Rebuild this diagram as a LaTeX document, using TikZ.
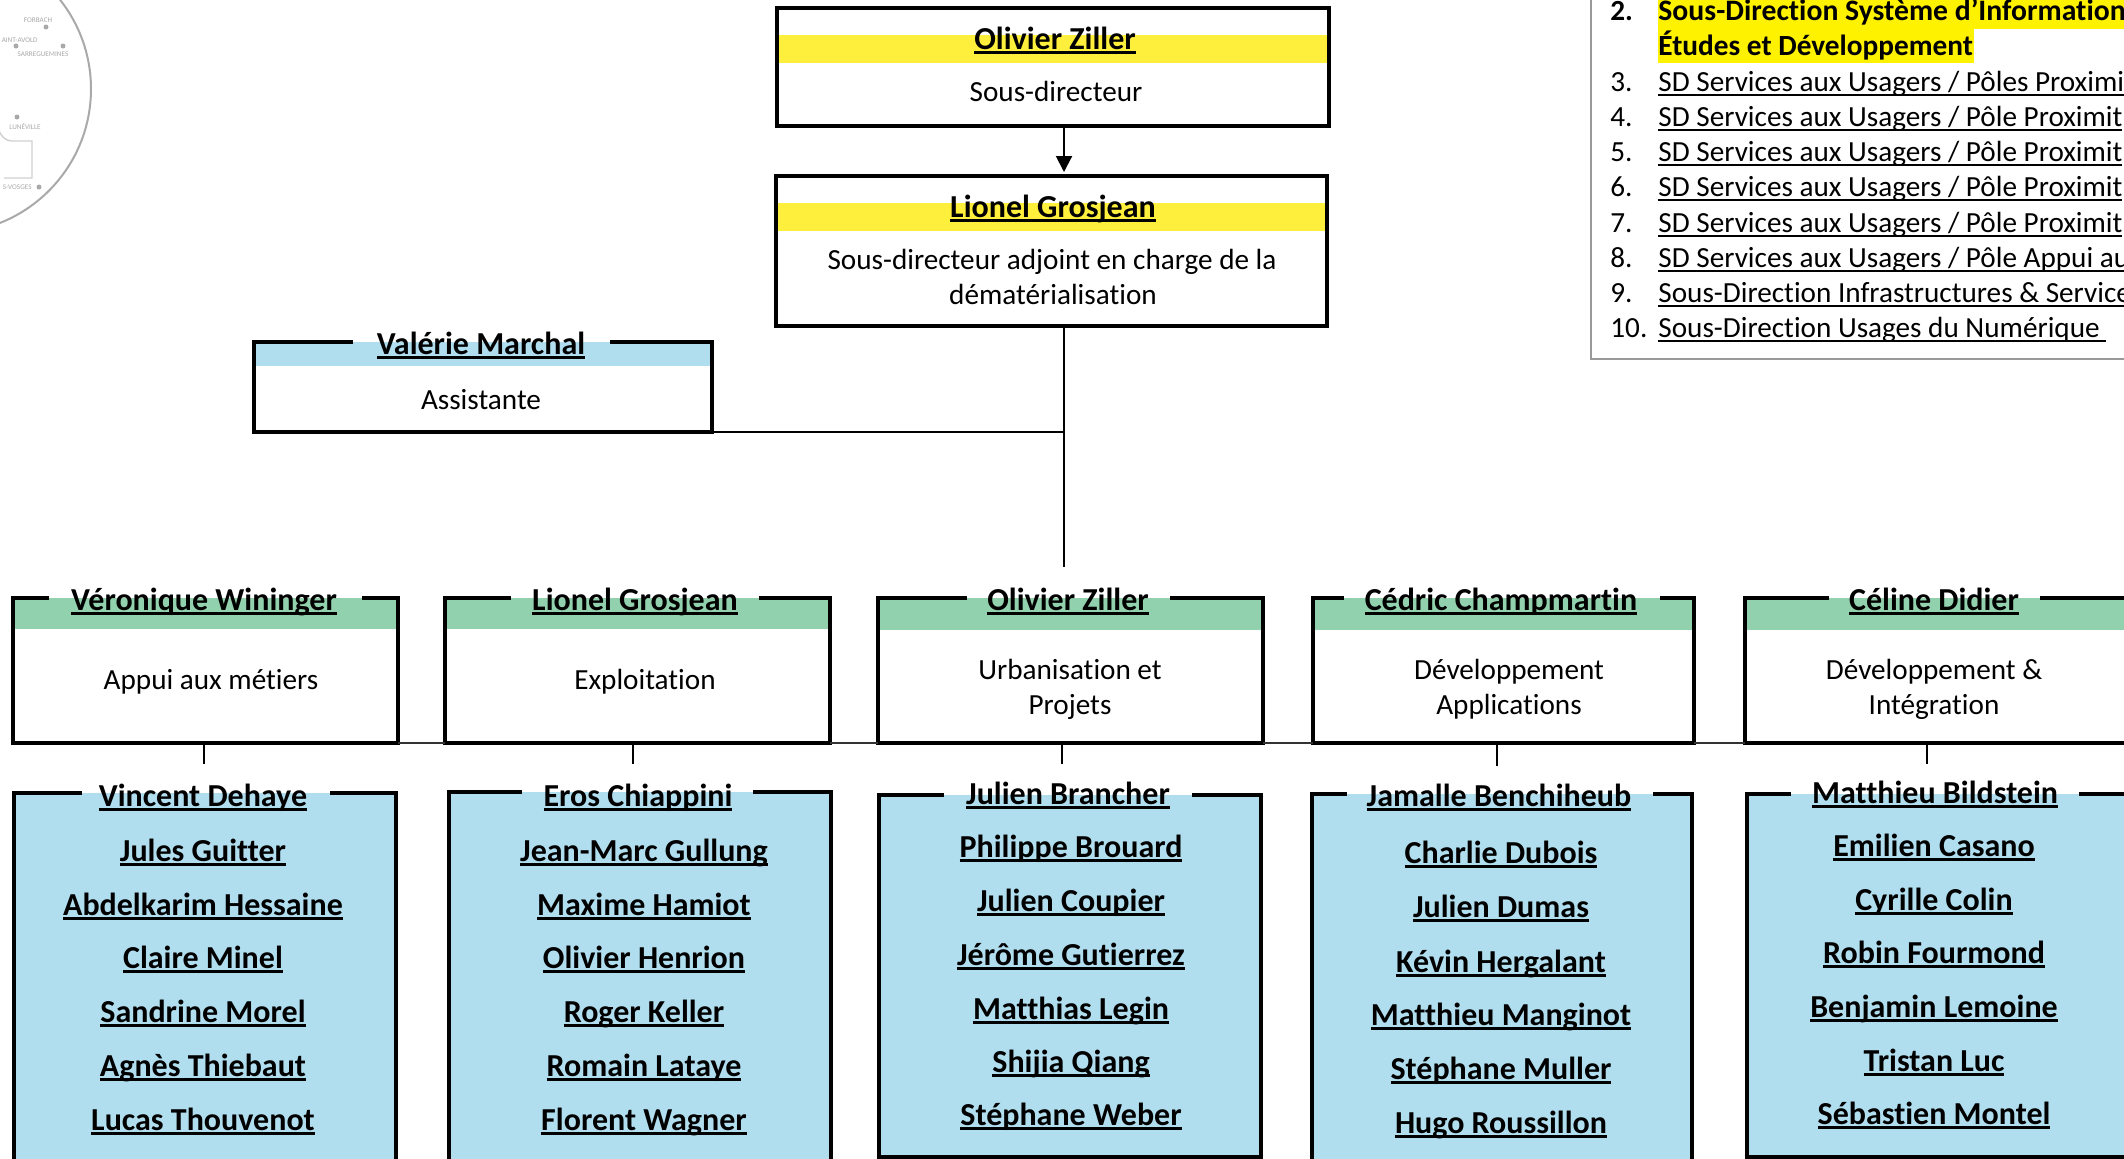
\documentclass[tikz,border=0pt]{standalone}
\usepackage{fontspec}
\setmainfont{Carlito}[Ligatures=NoCommon]
\usetikzlibrary{arrows.meta,calc}
\definecolor{yel}{HTML}{FFEF3D}
\definecolor{grn}{HTML}{92D1AD}
\definecolor{blu}{HTML}{B0DEEF}
\definecolor{mapgray}{HTML}{A9A9A9}
\definecolor{maptxt}{HTML}{A8A8A8}
\definecolor{mapline}{HTML}{CFCFCF}
\newcommand\ulb[1]{\setbox0\hbox{#1}\rlap{\rule[-2.3pt]{\wd0}{1.1pt}}\box0}
\newcommand\uln[1]{\setbox0\hbox{#1}\rlap{\rule[-2.3pt]{\wd0}{0.8pt}}\box0}
% id x1 y1 x2 y2 gapL gapR fill bandBottom
\newcommand\bx[9]{%
  \node[boxbg,minimum width={(#4-#2)*0.5pt},minimum height={(#5-#3)*0.5pt}] (#1) at (#2,#3) {};
  \fill[#8] (#1.north west) rectangle (#4,#9);
  \draw[border] (#6,#3) -- (#1.north west) -- (#1.south west) -- (#1.south east) -- (#1.north east) -- (#7,#3);
}
\newcommand\nm[4]{\node[namest] (#1) at (#2,{#3+11}) {\ulb{#4}};}
\newcommand\tx[4]{\node[textst] (#1) at (#2,{#3+9}) {#4};}
\newcommand\lsn[4]{\node[listnum] (#1) at (1610,#2) {#3};\node[listtxt] (#1t) at (1658,#2) {\uln{#4}};}
\tikzset{
  boxbg/.style={anchor=north west,inner sep=0pt,outer sep=0pt,fill=white},
  border/.style={line width=1.6pt,black,line join=miter},
  namest/.style={anchor=base,inner sep=0pt,font=\bfseries\fontsize{16}{19}\selectfont},
  textst/.style={anchor=base,inner sep=0pt,font=\fontsize{14.6}{17.5}\selectfont},
  listnum/.style={anchor=base west,inner sep=0pt,font=\fontsize{14.6}{17.5}\selectfont},
  listtxt/.style={anchor=base west,inner sep=0pt,font=\fontsize{14.6}{17.5}\selectfont},
  conn/.style={line width=1pt,black},
  hline/.style={line width=0.9pt,black!80},
  maplab/.style={inner sep=0pt,text=maptxt,font=\fontsize{3.6}{4}\selectfont},
  mapdot/.style={circle,fill=mapgray,inner sep=0pt,minimum size=2.5pt},
}
\begin{document}
\begin{tikzpicture}[x=0.5pt,y=-0.5pt]
\useasboundingbox (0,0) rectangle (2124,1158);
\clip (0,0) rectangle (2124,1158);
% map fragment
\draw[mapgray,line width=1pt] (-53,89) circle (72pt);
\draw[mapline,line width=0.7pt] (-2,128) .. controls (1,137) and (6,141) .. (12,141) -- (32,141) -- (32,178) -- (4,178);
\node[maplab] (fb) at (38,20) {FORBACH};
\node[maplab,anchor=east] (sa) at (38,40) {AINT-AVOLD};
\node[maplab] (sg) at (43,54) {SARREGUEMINES};
\node[maplab] (lu) at (25,127) {LUNÉVILLE};
\node[maplab,anchor=east] (sd) at (32,187) {S-VOSGES};
\node[mapdot] (d1) at (46,27) {};
\node[mapdot] (d2) at (16,46) {};
\node[mapdot] (d3) at (63,46) {};
\node[mapdot] (d4) at (17,117) {};
\node[mapdot] (d5) at (39,187) {};
% list panel
\coordinate (pTL) at (1591,-5);
\coordinate (pBL) at (1591,359);
\coordinate (pBR) at (2130,359);
\draw[gray!80,line width=0.8pt] (pTL) -- (pBL) -- (pBR);
\fill[yellow] (1658,-2) rectangle (2130,29);
\fill[yellow] (1658,29) rectangle (1974,63);
\node[listnum,font=\bfseries\fontsize{14.6}{17.5}\selectfont] (l2) at (1610,20) {2.};
\node[listtxt,font=\bfseries\fontsize{14.85}{17.5}\selectfont] (l2a) at (1658,20) {Sous-Direction Système d’Information};
\node[listtxt,font=\bfseries\fontsize{14.65}{17.5}\selectfont] (l2b) at (1658,55) {Études et Développement};
\lsn{l3}{91}{3.}{SD Services aux Usagers / Pôles Proximi}
\lsn{l4}{126}{4.}{SD Services aux Usagers / Pôle Proximit}
\lsn{l5}{161}{5.}{SD Services aux Usagers / Pôle Proximit}
\lsn{l6}{196}{6.}{SD Services aux Usagers / Pôle Proximit}
\lsn{l7}{232}{7.}{SD Services aux Usagers / Pôle Proximit}
\lsn{l8}{267}{8.}{SD Services aux Usagers / Pôle Appui au}
\lsn{l9}{302}{9.}{Sous-Direction Infrastructures \& Service}
\lsn{l10}{337}{10.}{Sous-Direction Usages du Numérique\ }
% connectors
\coordinate (trunk) at (1064,567);
\coordinate (s1) at (204,764);
\coordinate (s2) at (633,764);
\coordinate (s3) at (1062,764);
\coordinate (s4) at (1497,766);
\coordinate (s5) at (1927,764);
% boxes
\node[boxbg,minimum width=276pt,minimum height=59pt] (top) at (777,8) {};
\fill[yel] (779,35) rectangle (1327,63);
\draw[border] (top.north west) rectangle (top.south east);
\node[boxbg,minimum width=275.5pt,minimum height=75pt] (dep) at (776,176) {};
\fill[yel] (778,203) rectangle (1329,231);
\draw[border] (dep.north west) rectangle (dep.south east);
\bx{val}{254}{342}{712}{432}{353}{610}{blu}{366}
\draw[conn,-{Triangle[length=8pt,width=8pt]},shorten >=2pt] (top.south -| trunk) -- (dep.north -| trunk);
\draw[conn] (dep.south -| trunk) -- (trunk);
\draw[conn] (val.south east) -- (val.south east -| trunk);
\bx{c1}{13}{598}{398}{743}{49}{362}{grn}{629}
\bx{c2}{445}{598}{830}{743}{511}{759}{grn}{629}
\bx{c3}{878}{598}{1263}{743}{967}{1170}{grn}{630}
\bx{c4}{1313}{598}{1694}{743}{1344}{1660}{grn}{630}
\bx{c5}{1745}{598}{2140}{743}{1829}{2040}{grn}{630}
\draw[hline] (c1.south east) -- (c2.south west);
\draw[hline] (c2.south east) -- (c3.south west);
\draw[hline] (c3.south east) -- (c4.south west);
\draw[hline] (c4.south east) -- (c5.south west);
\bx{b1}{14}{793}{396}{1175}{82}{330}{blu}{1175}
\bx{b2}{449}{792}{831}{1175}{522}{753}{blu}{1175}
\bx{b3}{879}{795}{1261}{1157}{944}{1192}{blu}{1157}
\bx{b4}{1312}{794}{1692}{1175}{1347}{1653}{blu}{1175}
\bx{b5}{1747}{794}{2140}{1157}{1791}{2079}{blu}{1157}
\foreach \c/\s in {c1/s1,c2/s2,c3/s3,c4/s4,c5/s5} \draw[conn] (\c.south -| \s) -- (\s);
% header names
\nm{n0}{1055}{38}{Olivier Ziller}
\tx{t0}{1056}{92}{Sous-directeur}
\nm{n00}{1053}{206}{Lionel Grosjean}
\tx{t00a}{1052}{260}{Sous-directeur adjoint en charge de la}
\tx{t00b}{1053}{295}{dématérialisation}
\nm{nv}{481}{343}{Valérie Marchal}
\tx{tv}{481}{400}{Assistante}
\nm{h1}{204}{599}{Véronique Wininger}
\tx{a1}{211}{680}{Appui aux métiers}
\nm{h2}{635}{599}{Lionel Grosjean}
\tx{a2}{645}{680}{Exploitation}
\nm{h3}{1068}{599}{Olivier Ziller}
\tx{a3a}{1070}{670}{Urbanisation et}
\tx{a3b}{1070}{705}{Projets}
\nm{h4}{1501}{599}{Cédric Champmartin}
\tx{a4a}{1509}{670}{Développement}
\tx{a4b}{1509}{705}{Applications}
\nm{h5}{1934}{599}{Céline Didier}
\tx{a5a}{1934}{670}{Développement \&}
\tx{a5b}{1934}{705}{Intégration}
% column 1
\nm{p10}{203}{795}{Vincent Dehaye}
\nm{p11}{203}{850}{Jules Guitter}
\nm{p12}{203}{904}{Abdelkarim Hessaine}
\nm{p13}{203}{957}{Claire Minel}
\nm{p14}{203}{1011}{Sandrine Morel}
\nm{p15}{203}{1065}{Agnès Thiebaut}
\nm{p16}{203}{1119}{Lucas Thouvenot}
% column 2
\nm{p20}{638}{795}{Eros Chiappini}
\nm{p21}{644}{850}{Jean-Marc Gullung}
\nm{p22}{644}{904}{Maxime Hamiot}
\nm{p23}{644}{957}{Olivier Henrion}
\nm{p24}{644}{1011}{Roger Keller}
\nm{p25}{644}{1065}{Romain Lataye}
\nm{p26}{644}{1119}{Florent Wagner}
% column 3
\nm{p30}{1068}{793}{Julien Brancher}
\nm{p31}{1071}{846}{Philippe Brouard}
\nm{p32}{1071}{900}{Julien Coupier}
\nm{p33}{1071}{954}{Jérôme Gutierrez}
\nm{p34}{1071}{1008}{Matthias Legin}
\nm{p35}{1071}{1061}{Shijia Qiang}
\nm{p36}{1071}{1114}{Stéphane Weber}
% column 4
\nm{p40}{1499}{795}{Jamalle Benchiheub}
\nm{p41}{1501}{852}{Charlie Dubois}
\nm{p42}{1501}{906}{Julien Dumas}
\nm{p43}{1501}{961}{Kévin Hergalant}
\nm{p44}{1501}{1014}{Matthieu Manginot}
\nm{p45}{1501}{1068}{Stéphane Muller}
\nm{p46}{1501}{1122}{Hugo Roussillon}
% column 5
\nm{p50}{1935}{792}{Matthieu Bildstein}
\nm{p51}{1934}{845}{Emilien Casano}
\nm{p52}{1934}{899}{Cyrille Colin}
\nm{p53}{1934}{952}{Robin Fourmond}
\nm{p54}{1934}{1006}{Benjamin Lemoine}
\nm{p55}{1934}{1060}{Tristan Luc}
\nm{p56}{1934}{1113}{Sébastien Montel}
\end{tikzpicture}
\end{document}
